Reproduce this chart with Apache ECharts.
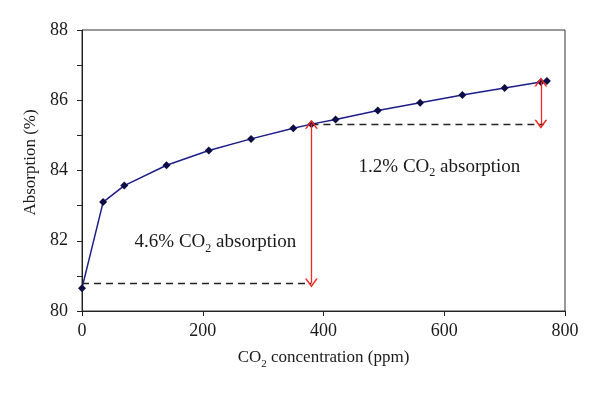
<!DOCTYPE html>
<html>
<head>
<meta charset="utf-8">
<script src="https://cdn.jsdelivr.net/npm/echarts@6/dist/echarts.min.js"></script>
<style>
  html, body { margin: 0; padding: 0; background: #fff; }
  #main { width: 600px; height: 396px; }
</style>
</head>
<body>
<div id="main"></div>
<script>
// CO2 concentration (ppm) and absorption (%)
var co2 = [0, 35, 70, 140, 210, 280, 350, 380, 420, 490, 560, 630, 700, 760, 770];
var absorption = [80.65, 83.1, 83.57, 84.15, 84.57, 84.9, 85.2, 85.32, 85.45, 85.71, 85.93, 86.15, 86.35, 86.52, 86.55];

// reference levels for the annotations
var lowLevel = 80.8;      // dashed line at start
var midLevel = 85.32;     // absorption at 380 ppm
var topLevel = 86.52;     // absorption at 760 ppm
var midX = 380;
var endX = 760;

// annotation texts [x, y, text]
var notes = [
    [221, 81.95, '{a|4.6% CO}{b|2}{a| absorption}'],
    [592, 84.11, '{a|1.2% CO}{b|2}{a| absorption}']
];

var font = 'Liberation Serif';
var txt = '#1a1a1a';

function sub(size) {
    return {
        a: { fontFamily: font, fontSize: size, color: txt, lineHeight: 24 },
        b: { fontFamily: font, fontSize: Math.round(size * 0.65), color: txt, lineHeight: 11, verticalAlign: 'bottom' }
    };
}

var points = co2.map(function (x, i) { return [x, absorption[i]]; });

// 空心箭头
var chevron = 'path://M0,10 L5,0 L10,10 L8.6,10 L5,2.8 L1.4,10 Z';

var chart = echarts.init(document.getElementById('main'));

var option = {
    backgroundColor: '#fff',
    animation: false,
    grid: {
        left: 82, right: 35, top: 30, bottom: 85,
        show: true, borderColor: '#333', borderWidth: 1
    },
    xAxis: {
        type: 'value',
        min: 0, max: 800, interval: 200,
        name: '{a|CO}{b|2}{a| concentration (ppm)}',
        nameLocation: 'middle',
        nameGap: 35,
        nameTextStyle: { rich: sub(17) },
        axisLine: { lineStyle: { color: '#222' } },
        axisTick: { inside: false, length: 5, lineStyle: { color: '#222' } },
        axisLabel: { fontFamily: font, fontSize: 18, color: txt, margin: 11 },
        splitLine: { show: false }
    },
    yAxis: {
        type: 'value',
        min: 80, max: 88, interval: 2,
        name: 'Absorption (%)',
        nameLocation: 'middle',
        nameGap: 42,
        nameTextStyle: { fontFamily: font, fontSize: 17, color: txt, padding: [0, 0, 0, 16] },
        axisLine: { show: true, lineStyle: { color: '#222' } },
        axisTick: { inside: false, length: 5, lineStyle: { color: '#222' } },
        minorTick: { show: true, splitNumber: 2, length: 5, lineStyle: { color: '#222' } },
        axisLabel: { fontFamily: font, fontSize: 18, color: txt, margin: 14 },
        splitLine: { show: false }
    },
    series: [
        {
            type: 'line',
            data: points,
            symbol: 'diamond',
            symbolSize: 8,
            itemStyle: { color: '#0d0d45' },
            lineStyle: { color: '#1c1c8a', width: 1.5 },
            markLine: {
                silent: true,
                symbol: 'none',
                label: { show: false },
                lineStyle: { color: '#222', type: [7, 5], width: 1.3 },
                data: [
                    [{ coord: [0, lowLevel] }, { coord: [midX, lowLevel] }],
                    [{ coord: [midX, midLevel] }, { coord: [endX + 5, midLevel] }]
                ]
            },
            markPoint: {
                silent: true,
                symbol: 'circle',
                symbolSize: 0,
                label: { show: true, position: 'inside', rich: sub(19) },
                data: notes.map(function (n) {
                    return { coord: [n[0], n[1]], label: { formatter: n[2] } };
                })
            }
        },
        {
            type: 'line',
            data: [],
            markLine: {
                silent: true,
                symbol: [chevron, chevron],
                symbolSize: [13, 9],
                label: { show: false },
                lineStyle: { color: '#ee2a24', type: 'solid', width: 1.3 },
                data: [
                    [{ coord: [midX, midLevel] }, { coord: [midX, lowLevel] }],
                    [{ coord: [endX, topLevel] }, { coord: [endX, midLevel] }]
                ]
            }
        }
    ]
};

chart.setOption(option);
</script>
</body>
</html>
